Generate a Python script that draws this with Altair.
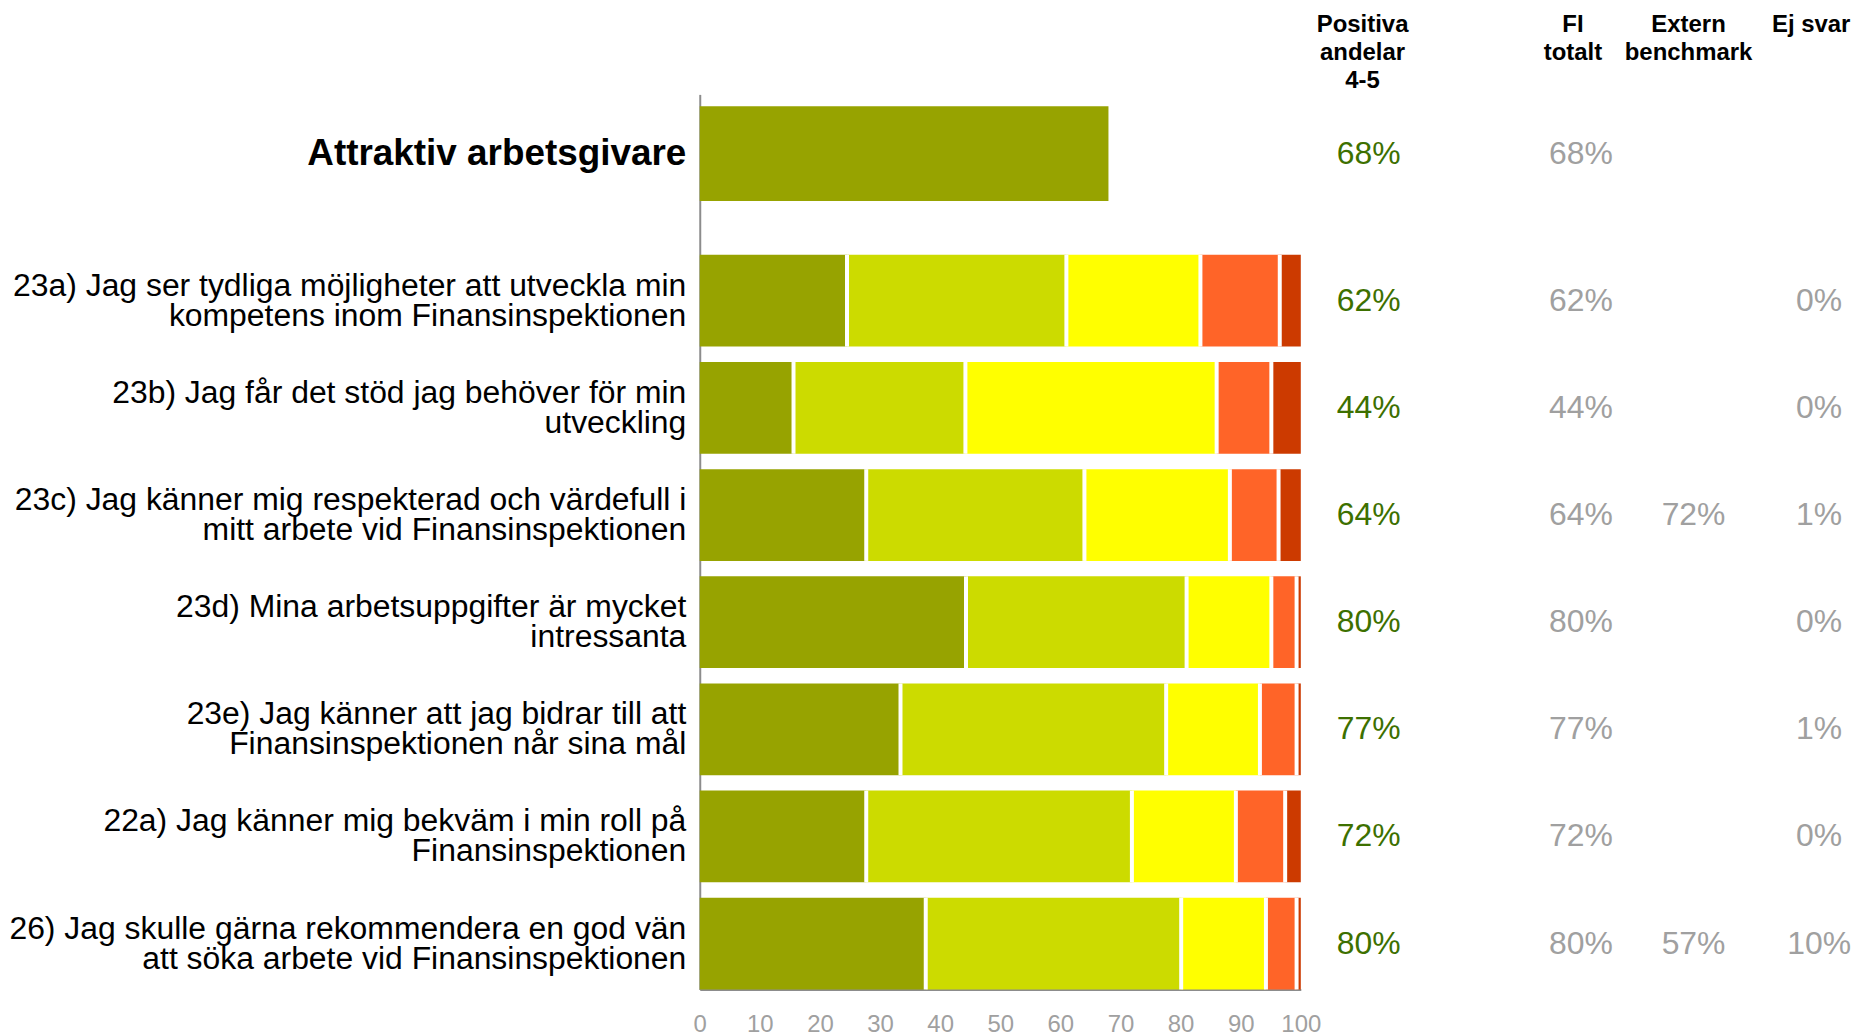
import altair as alt
import pandas as pd

FONT = "Liberation Sans"

# ---------------- data ----------------
top_label = ["Attraktiv arbetsgivare"]
top_value = [68]
top_positiva = ["68%"]
top_fi = ["68%"]

questions = [
    "23a) Jag ser tydliga möjligheter att utveckla min|kompetens inom Finansinspektionen",
    "23b) Jag får det stöd jag behöver för min|utveckling",
    "23c) Jag känner mig respekterad och värdefull i|mitt arbete vid Finansinspektionen",
    "23d) Mina arbetsuppgifter är mycket|intressanta",
    "23e) Jag känner att jag bidrar till att|Finansinspektionen når sina mål",
    "22a) Jag känner mig bekväm i min roll på|Finansinspektionen",
    "26) Jag skulle gärna rekommendera en god vän|att söka arbete vid Finansinspektionen",
]
seg_names = ["5", "4", "3", "2", "1"]
svar_5 = [24.5, 15.6, 27.7, 44.3, 33.4, 27.7, 37.6]
svar_4 = [36.5, 28.6, 36.3, 36.7, 44.2, 44.2, 42.5]
svar_3 = [22.3, 41.8, 24.2, 14.1, 15.6, 17.3, 14.1]
svar_2 = [13.2, 9.1, 8.1, 4.2, 6.1, 8.2, 5.1]
svar_1 = [3.5, 4.9, 3.7, 0.7, 0.7, 2.6, 0.7]

positiva = ["62%", "44%", "64%", "80%", "77%", "72%", "80%"]
fi_totalt = ["62%", "44%", "64%", "80%", "77%", "72%", "80%"]
extern = ["", "", "72%", "", "", "", "57%"]
ej_svar = ["0%", "0%", "1%", "0%", "1%", "0%", "10%"]

headers = ["Positiva\nandelar\n4-5", "FI\ntotalt", "Extern\nbenchmark", "Ej svar"]
ticks = list(range(0, 101, 10))
colors = ["#97A300", "#CCDB00", "#FFFF00", "#FF6428", "#CC3A00"]

GREEN = "#3D7000"
GRAY = "#A0A0A0"
AXIS_GRAY = "#8C8C8C"

W = 603
H_TOP = 161
H_BOT = 737
COL_X = [671, 884, 997, 1123]
HEAD_X = [665, 876, 992, 1115]

NO_VIEW = alt.ViewBackground(strokeWidth=0, strokeOpacity=0, stroke="transparent")

# ---------------- tables ----------------
rows = []
for i, q in enumerate(questions):
    for k, arr in enumerate([svar_5, svar_4, svar_3, svar_2, svar_1]):
        rows.append({"q": q, "seg": seg_names[k], "order": k, "value": arr[i]})
df = pd.DataFrame(rows)
df_txt = pd.DataFrame({"q": questions, "pos": positiva, "fi": fi_totalt,
                       "ext": extern, "ej": ej_svar})
df_top = pd.DataFrame({"q": top_label, "value": top_value,
                       "pos": top_positiva, "fi": top_fi})

# ---------------- bottom chart ----------------
Y_bot = alt.Y(
    "q:N", sort=questions, title=None,
    scale=alt.Scale(paddingInner=0.144, paddingOuter=0),
    axis=alt.Axis(labelExpr="split(datum.label, '|')", labelFontSize=32,
                  labelFont=FONT, labelColor="black", labelPadding=14,
                  ticks=False, domainColor=AXIS_GRAY, domainWidth=2,
                  labelLimit=2000, labelLineHeight=30, labelAlign="right",
                  labelBaseline="middle", labelOffset=-15, grid=False),
)

base = alt.Chart(df).transform_stack(
    stack="value", groupby=["q"], as_=["x0", "x1"],
    sort=[alt.SortField("order", order="ascending")],
)
bars = base.mark_bar().encode(
    x=alt.X("x0:Q", title=None, scale=alt.Scale(domain=[0, 100], nice=False),
            axis=alt.Axis(values=ticks, labelFontSize=24, labelFont=FONT,
                          labelColor=GRAY, ticks=False, grid=False,
                          domainColor=AXIS_GRAY, domainWidth=2,
                          labelPadding=23, labelFlush=False)),
    x2="x1:Q",
    y=Y_bot,
    color=alt.Color("seg:N", scale=alt.Scale(domain=seg_names, range=colors),
                    legend=None),
)
seps = base.transform_filter("datum.order < 4").mark_tick(
    color="white", thickness=4, size=92, opacity=1
).encode(x="x1:Q", y=Y_bot)

txt = alt.Chart(df_txt)
t_pos = txt.mark_text(fontSize=32, font=FONT, color=GREEN, align="center",
                      baseline="middle").encode(y=Y_bot, x=alt.value(COL_X[0]), text="pos:N")
t_fi = txt.mark_text(fontSize=32, font=FONT, color=GRAY, align="center",
                     baseline="middle").encode(y=Y_bot, x=alt.value(COL_X[1]), text="fi:N")
t_ext = txt.mark_text(fontSize=32, font=FONT, color=GRAY, align="center",
                      baseline="middle").encode(y=Y_bot, x=alt.value(COL_X[2]), text="ext:N")
t_ej = txt.mark_text(fontSize=32, font=FONT, color=GRAY, align="center",
                     baseline="middle").encode(y=Y_bot, x=alt.value(COL_X[3]), text="ej:N")

bottom = alt.layer(bars, seps, t_pos, t_fi, t_ext, t_ej).properties(
    width=W, height=H_BOT, view=NO_VIEW)

# ---------------- top chart ----------------
Y_top = alt.Y(
    "q:N", title=None,
    scale=alt.Scale(paddingInner=0, paddingOuter=0.347, align=0.18),
    axis=alt.Axis(labelFontSize=37, labelFont=FONT, labelFontWeight="bold",
                  labelColor="black", labelPadding=14, ticks=False,
                  domainColor=AXIS_GRAY, domainWidth=2, labelLimit=2000,
                  grid=False),
)
top_bar = alt.Chart(df_top).mark_bar(color=colors[0]).encode(
    x=alt.X("value:Q", scale=alt.Scale(domain=[0, 100], nice=False), axis=None),
    y=Y_top,
)
ttxt = alt.Chart(df_top)
tt_pos = ttxt.mark_text(fontSize=32, font=FONT, color=GREEN, align="center",
                        baseline="middle").encode(y=Y_top, x=alt.value(COL_X[0]), text="pos:N")
tt_fi = ttxt.mark_text(fontSize=32, font=FONT, color=GRAY, align="center",
                       baseline="middle").encode(y=Y_top, x=alt.value(COL_X[1]), text="fi:N")

head_layers = []
for h, hx in zip(headers, HEAD_X):
    head_layers.append(
        alt.Chart(pd.DataFrame({"h": [h]})).mark_text(
            fontSize=24, font=FONT, fontWeight="bold", color="black",
            align="center", baseline="top", lineBreak="\n", lineHeight=28.5
        ).encode(text="h:N", x=alt.value(hx), y=alt.value(-82))
    )

top = alt.layer(top_bar, tt_pos, tt_fi, *head_layers).properties(
    width=W, height=H_TOP, view=NO_VIEW)

chart = alt.vconcat(top, bottom, spacing=0).properties(
    padding={"left": 0, "top": 3, "right": 0, "bottom": 0}
).configure_view(strokeWidth=0, stroke="transparent").configure(font=FONT)

chart.save("out.html", embed_options={"renderer": "svg", "actions": False})
